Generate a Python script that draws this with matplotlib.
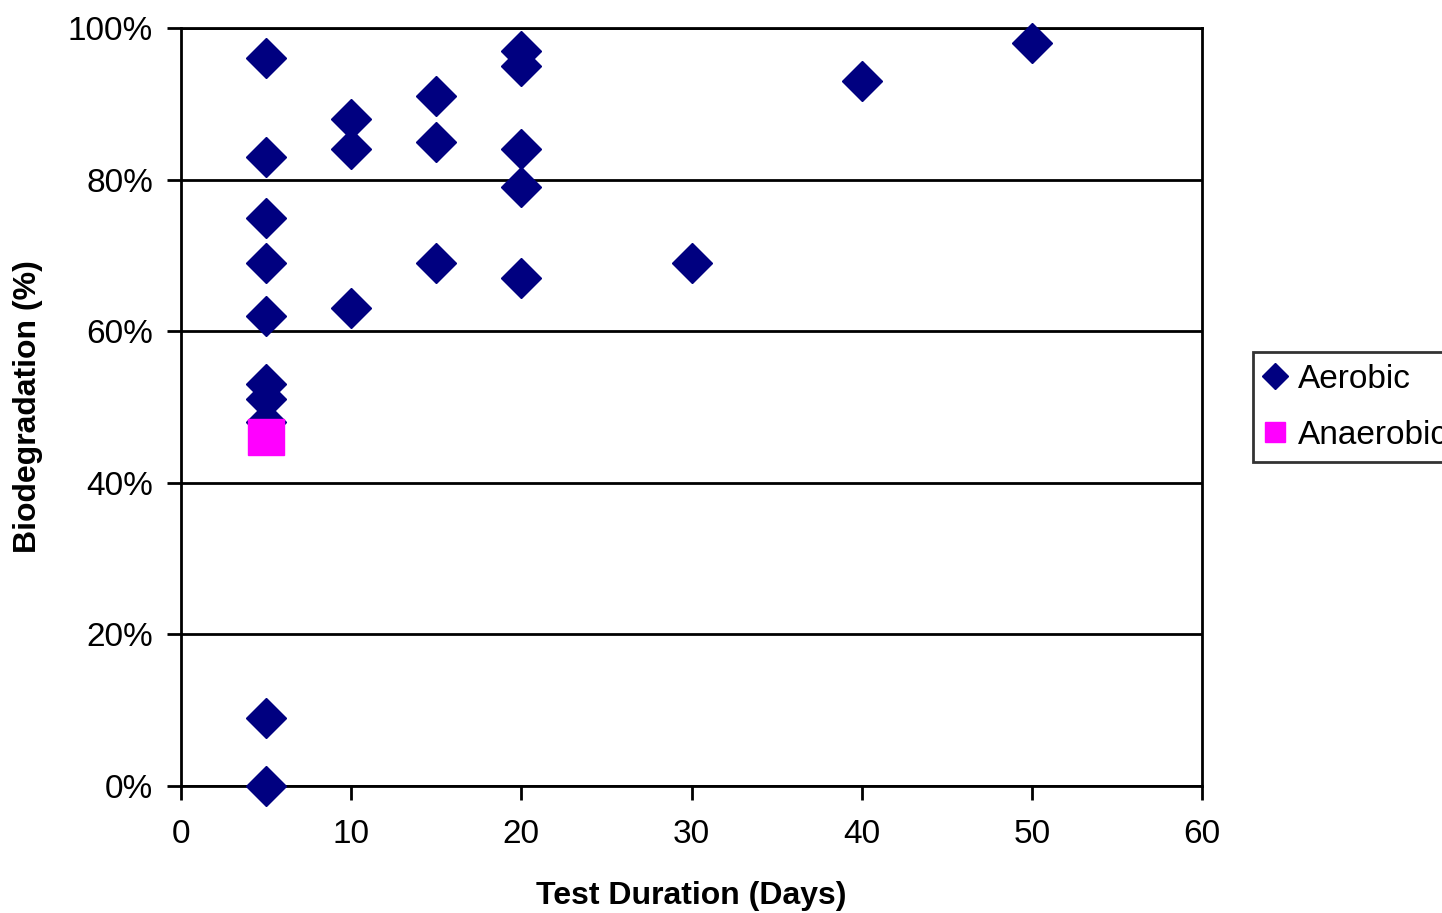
import matplotlib
matplotlib.use("Agg")
import matplotlib.pyplot as plt
from matplotlib.lines import Line2D
from matplotlib.ticker import FuncFormatter

plt.rcParams['font.family'] = ['Liberation Sans', 'DejaVu Sans']

# aerobic tests: duration (days) and biodegradation (%)
aer_days = [5, 5, 5, 5, 5, 5, 5, 5, 5, 5,
            10, 10, 10,
            15, 15, 15,
            20, 20, 20, 20, 20,
            30, 40, 50]
aer_pct = [96, 83, 75, 69, 62, 53, 51, 48, 9, 0,
           88, 84, 63,
           91, 85, 69,
           97, 95, 84, 79, 67,
           69, 93, 98]

# anaerobic test
ana_days = [5]
ana_pct = [46]

fig = plt.figure(figsize=(14.42, 9.13), dpi=100)
ax = fig.add_axes([0.1255, 0.1391, 0.7081, 0.8302])

ax.plot(aer_days, aer_pct, linestyle='none', marker='D', markersize=20,
        color='#000080', markeredgecolor='#000080', clip_on=False, zorder=4)
ax.plot(ana_days, ana_pct, linestyle='none', marker='s', markersize=26,
        color='#ff00ff', markeredgecolor='#ff00ff', clip_on=False, zorder=5)

ax.set_xlim(0, 60)
ax.set_ylim(0, 100)
ax.set_xticks(range(0, 61, 10))
ax.set_yticks(range(0, 101, 20))
ax.yaxis.set_major_formatter(FuncFormatter(lambda v, p: f"{v:.0f}%"))
ax.grid(axis='y', color='black', linewidth=2)
ax.set_axisbelow(True)
for s in ax.spines.values():
    s.set_linewidth(2)
ax.tick_params(axis='both', labelsize=24, width=2, length=10, direction='out')
ax.tick_params(axis='x', pad=14)
ax.tick_params(axis='y', pad=10)

ax.set_xlabel('Test Duration (Days)', fontsize=23, fontweight='bold', labelpad=22)
ax.set_ylabel('Biodegradation (%)', fontsize=23, fontweight='bold', labelpad=18)

handles = [
    Line2D([], [], linestyle='none', marker='D', markersize=13, color='#000080'),
    Line2D([], [], linestyle='none', marker='s', markersize=15, color='#ff00ff'),
]
leg = fig.legend(handles, ['Aerobic', 'Anaerobic'], loc='upper left',
                 bbox_to_anchor=(0.869, 0.6145), fontsize=24, frameon=True,
                 fancybox=False, edgecolor='black', handlelength=0.6,
                 handletextpad=0.4, borderpad=0.35, labelspacing=0.75,
                 borderaxespad=0)
leg.get_frame().set_linewidth(2)

fig.savefig('out.png', dpi=100)
